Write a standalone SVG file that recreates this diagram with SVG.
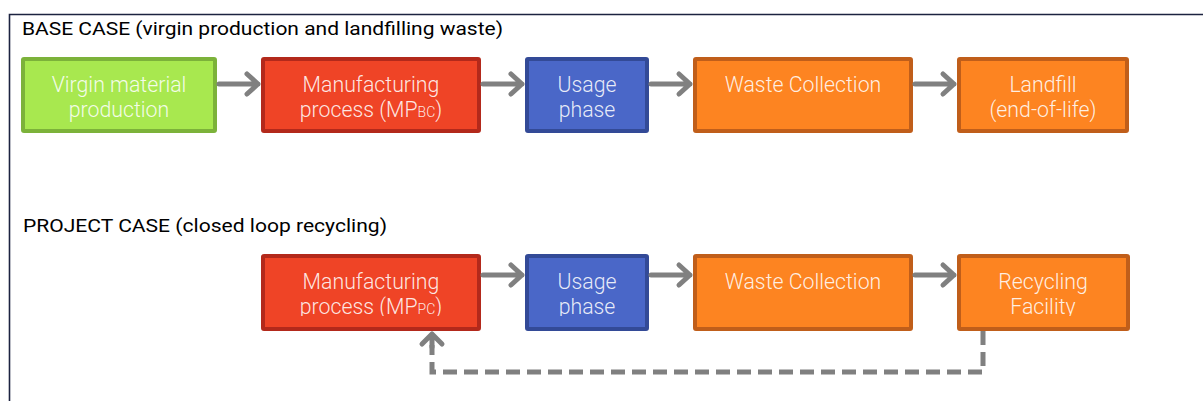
<svg xmlns="http://www.w3.org/2000/svg" width="1203" height="401" viewBox="0 0 1203 401">
  <style>
    .title { font-family: Roboto, "Liberation Sans", sans-serif; font-size: 18px; fill: #000; }
    .lbl { font-family: Roboto, "Liberation Sans", sans-serif; font-weight: 300; font-size: 21.3px; fill: #ffffff; fill-opacity: 0.88; text-anchor: middle; }
    .sub { font-size: 14px; }
    .green { fill: #a8e84f; stroke: #7cb23a; }
    .red { fill: #ef4426; stroke: #b3291b; }
    .blue { fill: #4a67c8; stroke: #334a97; }
    .orange { fill: #fd8421; stroke: #c05e1a; }
    .box rect { stroke-width: 4; }
    .arrow { fill: none; stroke: #808080; stroke-width: 5; stroke-linecap: round; stroke-linejoin: round; }
    .dash { fill: none; stroke: #808080; stroke-width: 5; stroke-dasharray: 14 7; }
  </style>
  <defs>
    <clipPath id="projClip"><rect x="0" y="240" width="1203" height="76"/></clipPath>
  </defs>

  <rect width="1203" height="401" fill="#ffffff"/>
  <!-- frame -->
  <path d="M9.5 401 V14.5 H1203" fill="none" stroke="#1c2340" stroke-width="1.6"/>

  <text class="title" x="22" y="35" textLength="481" lengthAdjust="spacingAndGlyphs">BASE CASE (virgin production and landfilling waste)</text>
  <text class="title" x="23" y="232" textLength="364" lengthAdjust="spacingAndGlyphs">PROJECT CASE (closed loop recycling)</text>

  <!-- base case row -->
  <g id="virgin" class="box">
    <rect class="green" x="23" y="59" width="192" height="72" rx="1"/>
    <text class="lbl" x="119" y="92">Virgin material</text>
    <text class="lbl" x="119" y="117">production</text>
  </g>
  <g id="mp-bc" class="box">
    <rect class="red" x="263" y="59" width="216" height="72" rx="1"/>
    <text class="lbl" x="371" y="92">Manufacturing</text>
    <text class="lbl" x="371" y="117">process (MP<tspan class="sub">BC</tspan>)</text>
  </g>
  <g id="usage-bc" class="box">
    <rect class="blue" x="527" y="59" width="120" height="72" rx="1"/>
    <text class="lbl" x="587" y="92">Usage</text>
    <text class="lbl" x="587" y="117">phase</text>
  </g>
  <g id="waste-bc" class="box">
    <rect class="orange" x="695" y="59" width="216" height="72" rx="1"/>
    <text class="lbl" x="803" y="92">Waste Collection</text>
  </g>
  <g id="landfill" class="box">
    <rect class="orange" x="959" y="59" width="168" height="72" rx="1"/>
    <text class="lbl" x="1043" y="92">Landfill</text>
    <text class="lbl" x="1043" y="117">(end-of-life)</text>
  </g>

  <!-- project case row -->
  <g id="mp-pc" class="box">
    <rect class="red" x="263" y="256" width="216" height="73" rx="1"/>
    <g clip-path="url(#projClip)">
      <text class="lbl" x="371" y="289">Manufacturing</text>
      <text class="lbl" x="371" y="314">process (MP<tspan class="sub">PC</tspan>)</text>
    </g>
  </g>
  <g id="usage-pc" class="box">
    <rect class="blue" x="527" y="256" width="120" height="73" rx="1"/>
    <g clip-path="url(#projClip)">
      <text class="lbl" x="587" y="289">Usage</text>
      <text class="lbl" x="587" y="314">phase</text>
    </g>
  </g>
  <g id="waste-pc" class="box">
    <rect class="orange" x="695" y="256" width="216" height="73" rx="1"/>
    <text class="lbl" x="803" y="289">Waste Collection</text>
  </g>
  <g id="recycling" class="box">
    <rect class="orange" x="959" y="256" width="169" height="73" rx="1"/>
    <g clip-path="url(#projClip)">
      <text class="lbl" x="1043" y="289">Recycling</text>
      <text class="lbl" x="1043" y="314">Facility</text>
    </g>
  </g>

  <!-- connectors -->
  <g id="connectors">
    <path class="arrow" d="M219 84 H258 M247 74 L258 84 L247 94"/>
    <path class="arrow" d="M483 84 H522 M511 74 L522 84 L511 94"/>
    <path class="arrow" d="M651 84 H690 M679 74 L690 84 L679 94"/>
    <path class="arrow" d="M915 84 H954 M943 74 L954 84 L943 94"/>

    <path class="arrow" d="M483 275 H522 M511 265 L522 275 L511 285"/>
    <path class="arrow" d="M651 275 H690 M679 265 L690 275 L679 285"/>
    <path class="arrow" d="M915 275 H954 M943 265 L954 275 L943 285"/>

    <path class="dash" d="M983 331 V372 H432 V345"/>
    <path class="arrow" d="M432 347 V334 M422 344 L432 334 L442 344"/>
  </g>
</svg>
